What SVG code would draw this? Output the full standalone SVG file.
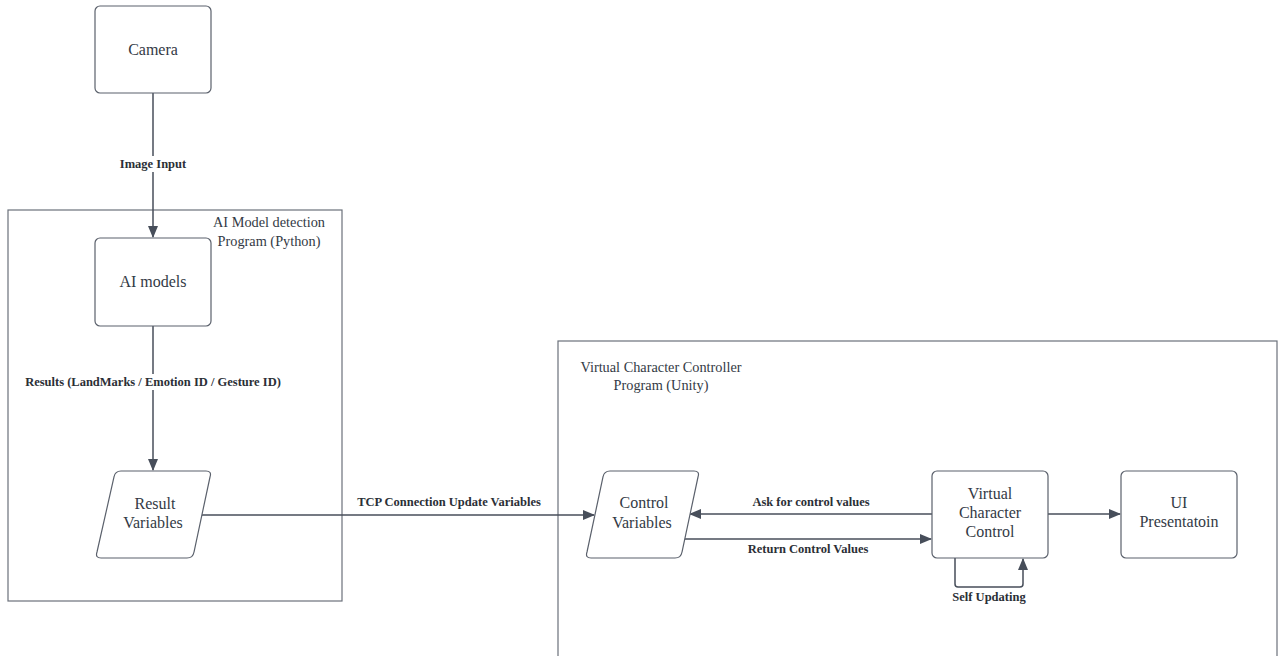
<svg xmlns="http://www.w3.org/2000/svg" width="1283" height="656" viewBox="0 0 1283 656">
<defs>
<marker id="ah" markerWidth="12" markerHeight="10" refX="11" refY="5" orient="auto" markerUnits="userSpaceOnUse">
<path d="M0,0 L12,5 L0,10 Z" fill="#474e5a"/>
</marker>
<style>
.node{fill:#fff;stroke:#5b616c;stroke-width:1.2}
.cont{fill:none;stroke:#6b717b;stroke-width:1.2}
.ln{fill:none;stroke:#474e5a;stroke-width:1.5}
.nt{font-family:"Liberation Serif",serif;font-size:16px;fill:#333a45;text-anchor:middle}
.ct{font-family:"Liberation Serif",serif;font-size:14.3px;fill:#333a45;text-anchor:middle}
.lb{font-family:"Liberation Serif",serif;font-size:12.5px;font-weight:bold;fill:#2b2f36;text-anchor:middle}
</style>
</defs>
<rect width="1283" height="656" fill="#fff"/>
<g id="container-python">
<rect class="cont" x="8" y="210" width="334" height="391"/>
<text class="ct" x="269" y="227">AI Model detection</text>
<text class="ct" x="269" y="246">Program (Python)</text>
</g>
<g id="container-unity">
<rect class="cont" x="558" y="341" width="719" height="330"/>
<text class="ct" x="661" y="372">Virtual Character Controller</text>
<text class="ct" x="661" y="390">Program (Unity)</text>
</g>
<g id="connectors">
<line class="ln" x1="153" y1="93" x2="153" y2="237" marker-end="url(#ah)"/>
<rect x="115" y="156" width="76" height="16" fill="#fff"/>
<text class="lb" x="153" y="168">Image Input</text>
<line class="ln" x1="153" y1="326" x2="153" y2="470" marker-end="url(#ah)"/>
<rect x="20" y="374" width="266" height="16" fill="#fff"/>
<text class="lb" x="153" y="386">Results (LandMarks / Emotion ID / Gesture ID)</text>
<line class="ln" x1="201" y1="515" x2="594" y2="515" marker-end="url(#ah)"/>
<text class="lb" x="449" y="506">TCP Connection Update Variables</text>
<line class="ln" x1="932" y1="514" x2="690" y2="514" marker-end="url(#ah)"/>
<text class="lb" x="811" y="506">Ask for control values</text>
<line class="ln" x1="680" y1="539" x2="931" y2="539" marker-end="url(#ah)"/>
<text class="lb" x="808" y="553">Return Control Values</text>
<line class="ln" x1="1048" y1="514" x2="1120" y2="514" marker-end="url(#ah)"/>
<path class="ln" d="M955,558 L955,584 Q955,587 958,587 L1020,587 Q1023,587 1023,584 L1023,559" marker-end="url(#ah)"/>
<text class="lb" x="989" y="601">Self Updating</text>
</g>
<g id="camera">
<rect class="node" x="95" y="6" width="116" height="87" rx="5"/>
<text class="nt" x="153" y="55">Camera</text>
</g>
<g id="ai-models">
<rect class="node" x="95" y="238" width="116" height="88" rx="5"/>
<text class="nt" x="153" y="287">AI models</text>
</g>
<g id="result-variables">
<path class="node" d="M121,471 L206,471 Q212,471 210,477 L194,552 Q193,558 187,558 L101,558 Q95,558 97,552 L114,477 Q115,471 121,471 Z"/>
<text class="nt" x="155" y="509">Result</text>
<text class="nt" x="153" y="528">Variables</text>
</g>
<g id="control-variables">
<path class="node" d="M610,471 L694,471 Q700,471 698,477 L682,552 Q681,558 675,558 L591,558 Q585,558 587,552 L603,477 Q604,471 610,471 Z"/>
<text class="nt" x="644" y="508">Control</text>
<text class="nt" x="642" y="528">Variables</text>
</g>
<g id="virtual-character-control">
<rect class="node" x="932" y="471" width="116" height="87" rx="5"/>
<text class="nt" x="990" y="499">Virtual</text>
<text class="nt" x="990" y="518">Character</text>
<text class="nt" x="990" y="537">Control</text>
</g>
<g id="ui-presentation">
<rect class="node" x="1121" y="471" width="116" height="87" rx="5"/>
<text class="nt" x="1179" y="508">UI</text>
<text class="nt" x="1179" y="527">Presentatoin</text>
</g>
</svg>
